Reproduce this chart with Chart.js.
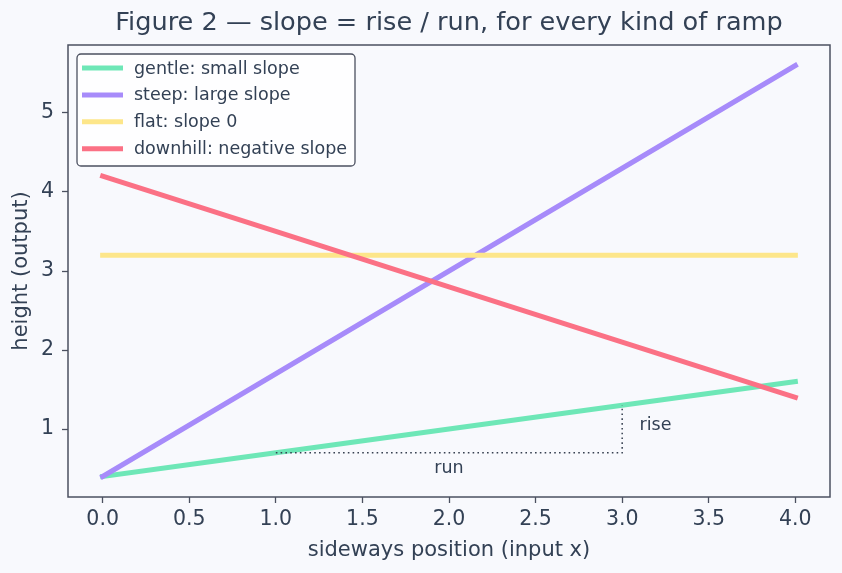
<!DOCTYPE html>
<html>
<head>
<meta charset="utf-8">
<script src="https://cdn.jsdelivr.net/npm/chart.js@4.4.1/dist/chart.umd.min.js"></script>
<style>
  html, body { margin: 0; padding: 0; background: #f8f9fd; }
  #wrap { width: 842px; height: 573px; }
</style>
</head>
<body>
<div id="wrap"><canvas id="c" width="842" height="573"></canvas></div>
<script>
// ---- data ----
const xValues = [0, 1, 2, 3, 4];
const gentle = [0.4, 0.7, 1.0, 1.3, 1.6];
const steep = [0.4, 1.7, 3.0, 4.3, 5.6];
const flat = [3.2, 3.2, 3.2, 3.2, 3.2];
const downhill = [4.2, 3.5, 2.8, 2.1, 1.4];
const seriesLabels = ['gentle: small slope', 'steep: large slope', 'flat: slope 0', 'downhill: negative slope'];
const seriesColors = ['#6ee7b7', '#a78bfa', '#fde68a', '#fb7185'];
const xTicks = [0, 0.5, 1, 1.5, 2, 2.5, 3, 3.5, 4];
const yTicks = [1, 2, 3, 4, 5];
const guideX = [1, 3, 3];
const guideY = [0.7, 0.7, 1.3];
const noteTexts = ['rise', 'run'];
const noteX = [3.1, 2.0];
const noteY = [0.99, 0.445];
const titleText = 'Figure 2 — slope = rise / run, for every kind of ramp';
const xTitle = 'sideways position (input x)';
const yTitle = 'height (output)';

const FONT = "'DejaVu Sans', sans-serif";
const TEXT = '#334155';
const SPINE = '#4b5060';
const BG = '#f8f9fd';

const pts = (ys) => xValues.map((x, i) => ({ x: x, y: ys[i] }));
const seriesValues = [gentle, steep, flat, downhill];

const datasets = seriesValues.map((ys, i) => ({
  label: seriesLabels[i],
  data: pts(ys),
  borderColor: seriesColors[i],
  backgroundColor: seriesColors[i],
  borderWidth: 5,
  borderCapStyle: 'square',
  pointRadius: 0,
  fill: false,
  order: 10 - i
}));
datasets.push({
  label: '_guide',
  data: guideX.map((x, i) => ({ x: x, y: guideY[i] })),
  borderColor: '#374151',
  borderWidth: 1.5,
  borderDash: [1.6, 3.2],
  pointRadius: 0,
  fill: false,
  order: 0
});

const decor = {
  id: 'decor',
  beforeDraw(chart) {
    const ctx = chart.ctx;
    ctx.save();
    ctx.fillStyle = BG;
    ctx.fillRect(0, 0, chart.width, chart.height);
    ctx.restore();
  },
  afterDatasetsDraw(chart) {
    const ctx = chart.ctx;
    const xs = chart.scales.x, ys = chart.scales.y;
    ctx.save();
    ctx.fillStyle = TEXT;
    ctx.font = '17.5px ' + FONT;
    ctx.textBaseline = 'alphabetic';
    ctx.textAlign = 'left';
    ctx.fillText(noteTexts[0], xs.getPixelForValue(noteX[0]), ys.getPixelForValue(noteY[0]));
    ctx.textAlign = 'center';
    ctx.fillText(noteTexts[1], xs.getPixelForValue(noteX[1]), ys.getPixelForValue(noteY[1]));
    ctx.restore();
  },
  afterDraw(chart) {
    const ctx = chart.ctx;
    const a = chart.chartArea;
    ctx.save();
    // frame
    ctx.strokeStyle = SPINE;
    ctx.lineWidth = 1.5;
    ctx.strokeRect(a.left, a.top, a.right - a.left, a.bottom - a.top);
    // title
    ctx.fillStyle = TEXT;
    ctx.font = '25.6px ' + FONT;
    ctx.textAlign = 'center';
    ctx.textBaseline = 'alphabetic';
    ctx.fillText(titleText, (a.left + a.right) / 2, 30);
    // legend
    const lx = a.left + 9, ly = a.top + 9, lw = 278, lh = 112;
    const r = 4;
    ctx.beginPath();
    ctx.moveTo(lx + r, ly);
    ctx.arcTo(lx + lw, ly, lx + lw, ly + lh, r);
    ctx.arcTo(lx + lw, ly + lh, lx, ly + lh, r);
    ctx.arcTo(lx, ly + lh, lx, ly, r);
    ctx.arcTo(lx, ly, lx + lw, ly, r);
    ctx.closePath();
    ctx.fillStyle = 'rgba(255,255,255,0.8)';
    ctx.fill();
    ctx.strokeStyle = SPINE;
    ctx.lineWidth = 1.3;
    ctx.stroke();
    ctx.font = '17.5px ' + FONT;
    ctx.textAlign = 'left';
    ctx.textBaseline = 'middle';
    chart.data.datasets.slice(0, 4).forEach((ds, i) => {
      const cy = ly + 14 + i * 26.9;
      ctx.strokeStyle = ds.borderColor;
      ctx.lineWidth = 5;
      ctx.lineCap = 'butt';
      ctx.beginPath();
      ctx.moveTo(lx + 5, cy);
      ctx.lineTo(lx + 46, cy);
      ctx.stroke();
      ctx.fillStyle = TEXT;
      ctx.fillText(ds.label, lx + 57, cy + 1);
    });
    ctx.restore();
  }
};

new Chart(document.getElementById('c'), {
  type: 'line',
  data: { datasets: datasets },
  options: {
    responsive: false,
    animation: false,
    devicePixelRatio: 1,
    layout: { padding: { top: 45, right: 12, left: 0, bottom: 0 } },
    plugins: { legend: { display: false }, tooltip: { enabled: false }, title: { display: false } },
    scales: {
      x: {
        type: 'linear',
        min: -0.2, max: 4.2,
        afterBuildTicks: (s) => { s.ticks = xTicks.map(v => ({ value: v })); },
        afterFit: (s) => { s.height = 76; },
        border: { display: false },
        grid: { drawOnChartArea: false, drawTicks: true, tickLength: 6, tickColor: SPINE, tickWidth: 1.3 },
        ticks: { color: TEXT, font: { family: FONT, size: 20.5 }, padding: 4, callback: (v) => Number(v).toFixed(1), maxRotation: 0, autoSkip: false },
        title: { display: true, text: xTitle, color: TEXT, font: { family: FONT, size: 21 }, padding: { top: 0, bottom: 10 } }
      },
      y: {
        type: 'linear',
        min: 0.14, max: 5.86,
        afterBuildTicks: (s) => { s.ticks = yTicks.map(v => ({ value: v })); },
        afterFit: (s) => { s.width = 68; },
        border: { display: false },
        grid: { drawOnChartArea: false, drawTicks: true, tickLength: 6, tickColor: SPINE, tickWidth: 1.3 },
        ticks: { color: TEXT, font: { family: FONT, size: 20.5 }, padding: 8, callback: (v) => String(v), autoSkip: false },
        title: { display: true, text: yTitle, color: TEXT, font: { family: FONT, size: 21 }, padding: { top: 9, bottom: 0 } }
      }
    }
  },
  plugins: [decor]
});
</script>
</body>
</html>
